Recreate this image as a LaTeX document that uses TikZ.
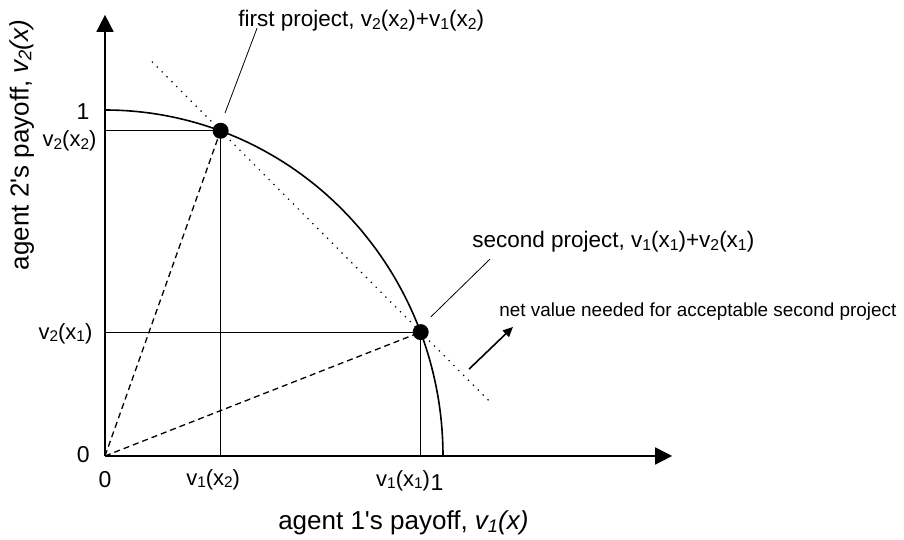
\documentclass[tikz,border=0pt]{standalone}
\usepackage{fontspec}
\usepackage{graphicx}
\setmainfont{Liberation Sans}
\usetikzlibrary{arrows.meta,calc}
\newcommand{\subs}[1]{\raisebox{-0.1em}{\scalebox{0.7}{#1}}}
\newcommand{\vx}[2]{v\subs{#1}(x\subs{#2})}
\tikzset{
  axis line/.style={line width=1.6pt,-{Triangle[length=17pt,width=17pt]}},
  guide/.style={line width=0.8pt},
  ray/.style={line width=1.3pt,dash pattern=on 6pt off 4pt},
  budget/.style={line width=1.2pt,dash pattern=on 1.3pt off 5.6pt},
  lbl/.style={font=\fontsize{22.5}{26}\selectfont,inner sep=1pt},
  tick lbl/.style={font=\fontsize{22}{26}\selectfont,inner sep=1pt},
  small lbl/.style={font=\fontsize{18.9}{22}\selectfont,inner sep=1pt},
  num lbl/.style={font=\fontsize{23}{27}\selectfont,inner sep=1pt},
  axis lbl/.style={font=\fontsize{26}{30}\selectfont,inner sep=1pt},
}
\begin{document}
\begin{tikzpicture}[x=338pt,y=346pt]
  \useasboundingbox (-0.3107,-0.2428) rectangle (2.3639,1.3179);
  \coordinate (O) at (0,0);
  \coordinate (P1) at (0.342,0.940);
  \coordinate (P2) at (0.934,0.358);
  \draw[axis line] (O)--(1.678,0) coordinate (xend);
  \draw[axis line] (O)--(0,1.275) coordinate (yend);
  \draw[line width=1.6pt,domain=0:90,samples=80] plot ({cos(\x)},{sin(\x)});
  \draw[guide] (P1-|O)--(P1)--(P1|-O);
  \draw[guide] (P2-|O)--(P2)--(P2|-O);
  \draw[ray] (O)--(P1);
  \draw[ray] (O)--(P2);
  \draw[budget] ($(P1)!-0.343!(P2)$)--($(P2)!-0.346!(P1)$);
  \fill (P1) circle (8pt);
  \fill (P2) circle (8pt);
  \node[num lbl] (one y) at (-0.065,0.994) {1};
  \node[tick lbl] (v2x2) at (-0.105,0.910) {\vx{2}{2}};
  \node[tick lbl] (v2x1) at (-0.117,0.353) {\vx{2}{1}};
  \node[num lbl] (zero y) at (-0.064,0.003) {0};
  \node[num lbl] (zero x) at (0,-0.069) {0};
  \node[tick lbl] (v1x2) at (0.320,-0.069) {\vx{1}{2}};
  \node[tick lbl] (v1x1) at (0.882,-0.072) {\vx{1}{1}};
  \node[num lbl] (one x) at (0.982,-0.078) {1};
  \node[axis lbl,anchor=west] (xlab) at (0.509,-0.194) {agent 1\textquotesingle s payoff, \textit{v\subs{1}(x)}};
  \node[axis lbl,rotate=90] (ylab) at (-0.2456,0.899) {agent 2\textquotesingle s payoff, \textit{v\subs{2}(x)}};
  \node[lbl,anchor=west] (first) at (0.391,1.257) {first project, \vx{2}{2}+\vx{1}{2}};
  \node[lbl,anchor=west] (second) at (1.083,0.618) {second project, \vx{1}{1}+\vx{2}{1}};
  \node[small lbl,anchor=west] (need) at (1.163,0.416) {net value needed for acceptable second project};
  \coordinate (f1) at (0.355,0.991);
  \coordinate (f2) at (0.450,1.237);
  \coordinate (s1) at (0.964,0.402);
  \coordinate (s2) at (1.139,0.569);
  \coordinate (n1) at (1.077,0.251);
  \coordinate (n2) at (1.207,0.373);
  \draw[guide] (f1)--(f2);
  \draw[guide] (s1)--(s2);
  \draw[line width=1.6pt,-{Triangle[length=10pt,width=9pt]}] (n1)--(n2);
\end{tikzpicture}
\end{document}
